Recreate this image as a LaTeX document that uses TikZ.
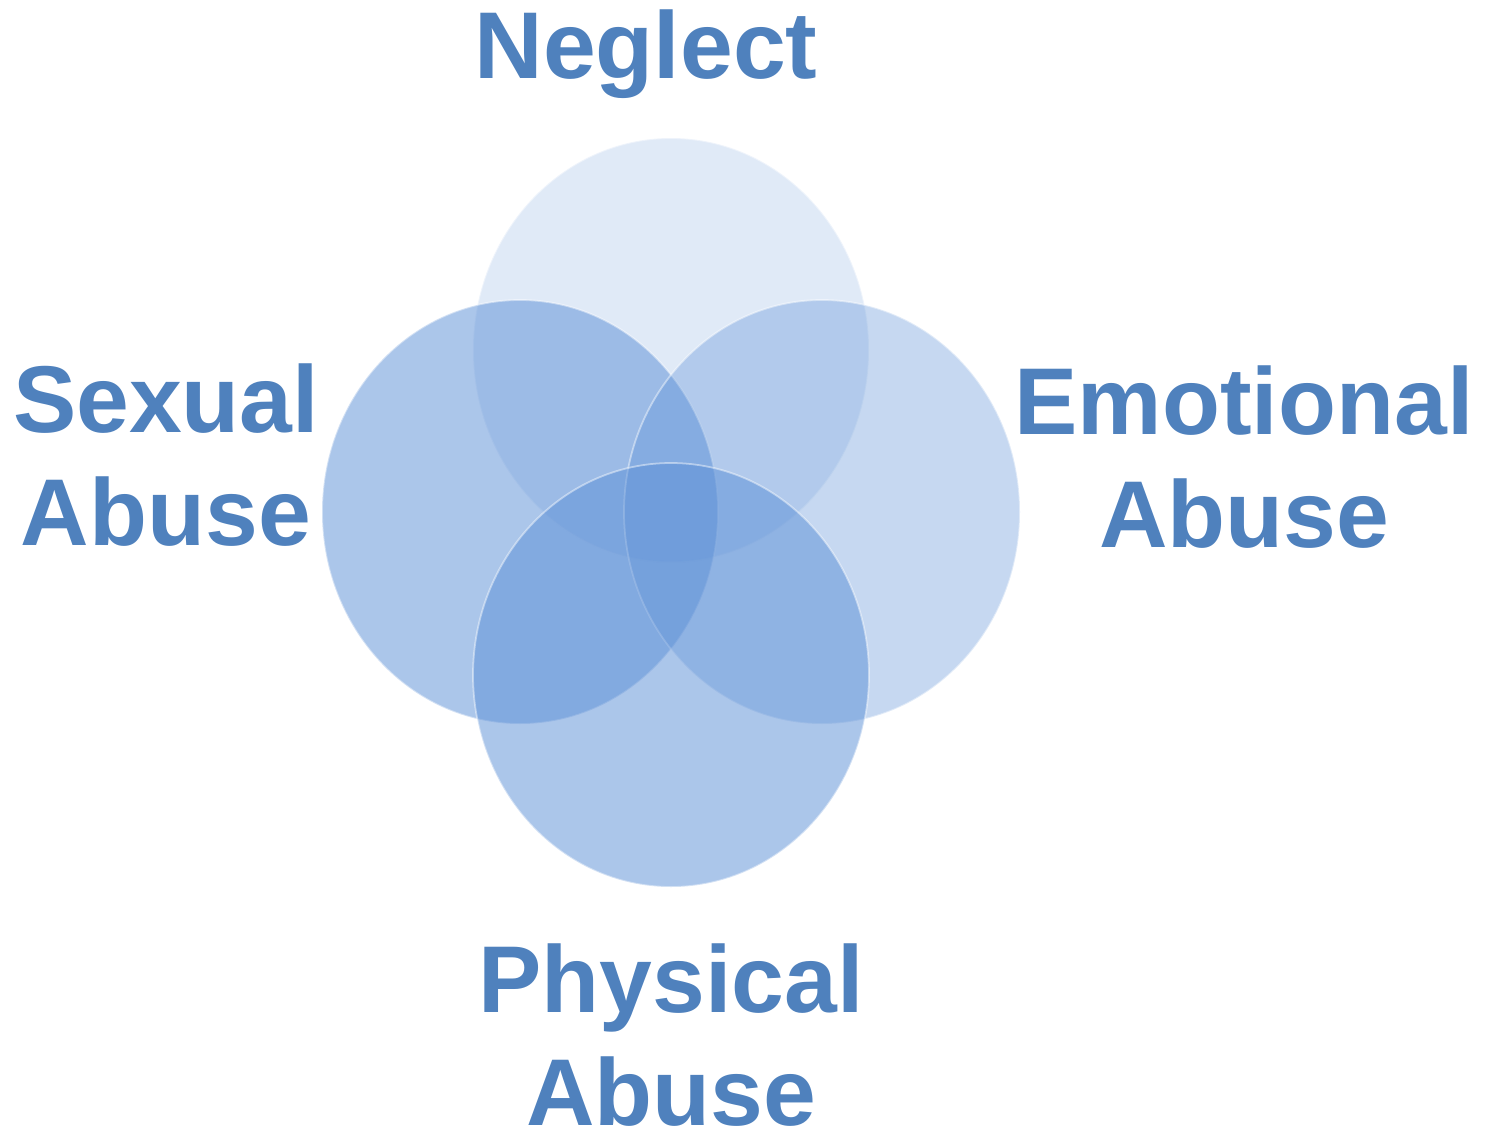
\documentclass[tikz,border=0pt]{standalone}
\usepackage{fontspec}
\setmainfont{Liberation Sans}
\definecolor{ovalblue}{RGB}{91,143,214}
\definecolor{textblue}{RGB}{79,129,189}
\begin{document}
\begin{tikzpicture}[x=1cm,y=1cm, line join=round, line cap=round,
	label/.style={text=textblue, font=\fontsize{27}{32}\selectfont\bfseries, align=center, anchor=base, inner sep=0pt},
	oval/.style={fill=ovalblue, fill opacity=#1, draw=white, draw opacity=.45, line width=.5pt}]
	\useasboundingbox (0,0) rectangle (14.89,-11.34);
	\path (6.71,-3.50)coordinate(N) (5.20,-5.12)coordinate(S) (8.22,-5.12)coordinate(E) (6.71,-6.75)coordinate(P);
	\foreach \p/\q in {N/.19,S/.51,E/.35,P/.51}
	{
		\path[oval=\q] (\p) ellipse (1.98 and 2.12);
	}
	\node[label] (neglect) at (6.46,-0.78) {Neglect};
	\node[label] (sexual) at (1.66,-5.45) {Sexual\\Abuse};
	\node[label] (emotional) at (12.44,-5.47) {Emotional\\Abuse};
	\node[label, text depth=0pt] (physical) at (6.71,-11.25) {Physical\\Abuse};
\end{tikzpicture}
\end{document}
